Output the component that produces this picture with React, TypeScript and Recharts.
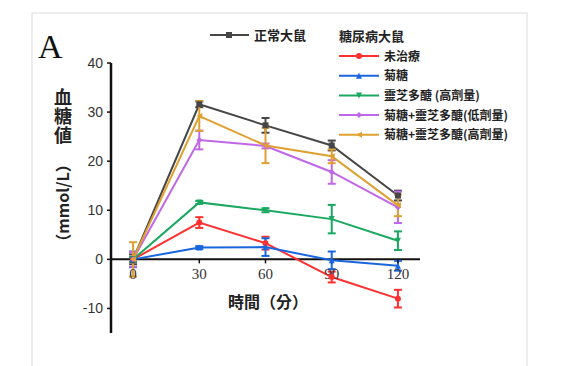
import React from "react"
import { ErrorBar, Line, LineChart, ReferenceDot, ReferenceLine, XAxis, YAxis } from "recharts"

const times = [0, 30, 60, 90, 120]
const yTicks = [-10, 0, 10, 20, 30, 40]

const normal = [0, 31.6, 27.3, 23.2, 13]
const normalErr = [1, 0.6, 1.5, 1, 1]
const untreated = [0, 7.5, 3.3, -3.6, -8]
const untreatedErr = [0.5, 1.1, 1.3, 1.1, 1.8]
const inulin = [0, 2.4, 2.5, -0.2, -1.3]
const inulinErr = [1.6, 0.3, 1.8, 1.8, 1]
const gpHigh = [0, 11.6, 10, 8.2, 3.8]
const gpHighErr = [0.5, 0.3, 0.4, 2.9, 1.9]
const mixLow = [0, 24.3, 23.1, 17.8, 10.6]
const mixLowErr = [1.5, 1.9, 0.5, 2.4, 3.2]
const mixHigh = [0, 29.2, 23.2, 21, 11]
const mixHighErr = [3.5, 3, 3.6, 1.4, 2.2]

type Shape = "square" | "circle" | "triangle" | "down" | "diamond" | "left"

const series: { key: string; name: string; color: string; shape: Shape; values: number[]; errs: number[] }[] = [
  { key: "normal", name: "正常大鼠", color: "#464646", shape: "square", values: normal, errs: normalErr },
  { key: "untreated", name: "未治療", color: "#ff3030", shape: "circle", values: untreated, errs: untreatedErr },
  { key: "inulin", name: "菊糖", color: "#1a66dd", shape: "triangle", values: inulin, errs: inulinErr },
  { key: "gpHigh", name: "靈芝多醣 (高劑量)", color: "#1aa860", shape: "down", values: gpHigh, errs: gpHighErr },
  { key: "mixLow", name: "菊糖+靈芝多醣(低劑量)", color: "#c066e8", shape: "diamond", values: mixLow, errs: mixLowErr },
  { key: "mixHigh", name: "菊糖+靈芝多醣(高劑量)", color: "#e0a030", shape: "left", values: mixHigh, errs: mixHighErr },
]

const data = times.map((t, i) => {
  const row: Record<string, number> = { t }
  series.forEach((s) => {
    row[s.key] = s.values[i]
    row[s.key + "Err"] = s.errs[i]
  })
  return row
})

const cjk = "'Noto Sans CJK TC', 'Noto Sans CJK JP', sans-serif"

function Marker({ cx, cy, shape, color }: { cx: number; cy: number; shape: Shape; color: string }) {
  const r = 3
  if (shape === "square") return <rect x={cx - r} y={cy - r} width={r * 2} height={r * 2} fill={color} />
  if (shape === "circle") return <circle cx={cx} cy={cy} r={r} fill={color} />
  if (shape === "triangle") return <path d={`M${cx},${cy - r} L${cx + r},${cy + r} L${cx - r},${cy + r}Z`} fill={color} />
  if (shape === "down") return <path d={`M${cx},${cy + r} L${cx + r},${cy - r} L${cx - r},${cy - r}Z`} fill={color} />
  if (shape === "diamond") return <path d={`M${cx},${cy - r} L${cx + r},${cy} L${cx},${cy + r} L${cx - r},${cy}Z`} fill={color} />
  return <path d={`M${cx - r},${cy} L${cx + r},${cy - r} L${cx + r},${cy + r}Z`} fill={color} />
}

function XTick(props: any) {
  const { cx, cy, payload } = props
  return (
    <g>
      <line x1={cx} y1={cy} x2={cx} y2={cy + 4} stroke="#111" strokeWidth={1.5} />
      <text x={cx} y={cy + 20} textAnchor="middle" fontFamily="'Liberation Serif', serif" fontSize={15} fill="#333">
        {payload}
      </text>
    </g>
  )
}

function Legend() {
  const [head, ...rest] = series
  return (
    <svg width={576} height={366} style={{ position: "absolute", left: 0, top: 0, pointerEvents: "none" }}>
      <rect x={32} y={13} width={495} height={360} fill="none" stroke="#dcdcdc" strokeWidth={1} />
      <text x={38} y={58} fontFamily="'Liberation Serif', serif" fontSize={34} fill="#111">A</text>
      <line x1={210} y1={35} x2={249} y2={35} stroke={head.color} strokeWidth={2} />
      <Marker cx={229} cy={35} shape={head.shape} color={head.color} />
      <text x={254} y={40} fontFamily={cjk} fontWeight={700} fontSize={13} fill="#222">{head.name}</text>
      <text x={339} y={41} fontFamily={cjk} fontWeight={700} fontSize={13} fill="#222">糖尿病大鼠</text>
      {rest.map((s, i) => {
        const y = 56 + i * 19.7
        return (
          <g key={s.key}>
            <line x1={339} y1={y} x2={379} y2={y} stroke={s.color} strokeWidth={2} />
            <Marker cx={359} cy={y} shape={s.shape} color={s.color} />
            <text x={384} y={y + 4.5} fontFamily={cjk} fontWeight={700} fontSize={12} fill="#222">{s.name}</text>
          </g>
        )
      })}
      <text
        x={63}
        y={88}
        fontFamily={cjk}
        fontWeight={700}
        fontSize={18}
        fill="#222"
        letterSpacing={1}
        style={{ writingMode: "vertical-rl" }}
      >
        血糖値
      </text>
      <text
        x={0}
        y={0}
        transform="translate(69,203) rotate(-90)"
        textAnchor="middle"
        fontFamily={cjk}
        fontWeight={700}
        fontSize={16}
        fill="#222"
      >
        （mmol/L）
      </text>
      <text x={268} y={308} textAnchor="middle" fontFamily={cjk} fontWeight={700} fontSize={16} fill="#222">
        時間（分）
      </text>
    </svg>
  )
}

export default function App() {
  return (
    <div style={{ position: "absolute", left: 0, top: 0, width: 576, height: 366, background: "#fff" }}>
      <LineChart width={576} height={366} data={data} margin={{ top: 63, right: 156, bottom: 33, left: 71 }}>
        <XAxis dataKey="t" type="number" domain={[-10, 130]} hide />
        <YAxis
          type="number"
          domain={[-15, 40]}
          ticks={yTicks}
          width={40}
          axisLine={{ stroke: "#111", strokeWidth: 2.5 }}
          tickLine={{ stroke: "#111", strokeWidth: 1.5 }}
          tickSize={4}
          tickMargin={4}
          tick={{ fill: "#333", fontSize: 14, fontFamily: "'Liberation Sans', Arial, sans-serif" }}
        />
        <ReferenceLine y={0} stroke="#111" strokeWidth={2} />
        {times.map((t) => (
          <ReferenceDot
            key={t}
            x={t}
            y={0}
            r={0}
            isFront
            shape={(p: any) => <XTick cx={p.cx} cy={p.cy} payload={t} />}
          />
        ))}
        {series.map((s) => (
          <Line
            key={s.key}
            dataKey={s.key}
            name={s.name}
            stroke={s.color}
            strokeWidth={2}
            isAnimationActive={false}
            dot={(p: any) => <Marker key={p.index} cx={p.cx} cy={p.cy} shape={s.shape} color={s.color} />}
            activeDot={false}
          >
            <ErrorBar dataKey={s.key + "Err"} stroke={s.color} strokeWidth={2} width={4} direction="y" />
          </Line>
        ))}
      </LineChart>
      <Legend />
    </div>
  )
}
